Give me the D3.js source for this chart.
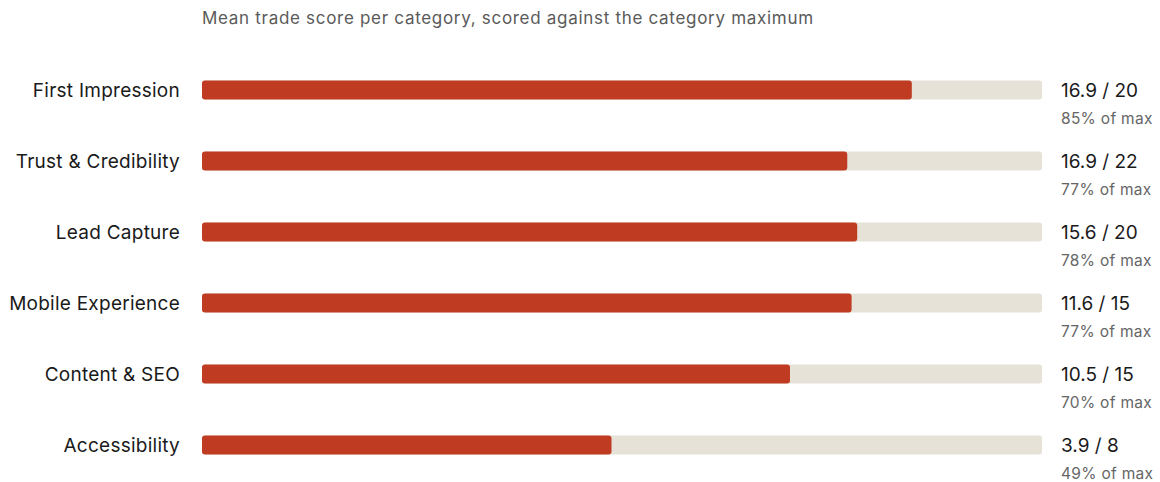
<!DOCTYPE html>
<html>
<head>
<meta charset="utf-8">
<script src="https://cdn.jsdelivr.net/npm/d3@7"></script>
<style>
  html, body { margin: 0; padding: 0; background: #ffffff; }
  svg { display: block; font-family: Inter, "Noto Sans", sans-serif; }
</style>
</head>
<body>
<svg id="chart" width="1160" height="482"></svg>
<script>
// Mean category scores and their maximum possible values
const categories = ["First Impression", "Trust & Credibility", "Lead Capture", "Mobile Experience", "Content & SEO", "Accessibility"];
const scores = [16.9, 16.9, 15.6, 11.6, 10.5, 3.9];
const maxima = [20, 22, 20, 15, 15, 8];
const percentLabels = ["85%", "77%", "78%", "77%", "70%", "49%"];
const subtitle = "Mean trade score per category, scored against the category maximum";

const svg = d3.select("#chart");
const trackLeft = 202, trackRight = 1042;
const barH = 19;

// Share of the maximum maps onto the track width
const x = d3.scaleLinear().domain([0, 1]).range([trackLeft, trackRight]);
const y = d3.scaleBand().domain(categories).range([55, 481]).paddingInner(0).paddingOuter(0);

svg.append("text")
  .attr("x", trackLeft).attr("y", 24)
  .attr("font-size", 17).attr("letter-spacing", 0.7).attr("fill", "#5a5a5a")
  .text(subtitle);

const rows = svg.selectAll("g.row")
  .data(categories.map((c, i) => ({ c, s: scores[i], m: maxima[i], p: percentLabels[i] })))
  .join("g").attr("class", "row")
  .attr("transform", d => `translate(0,${y(d.c) + y.bandwidth() / 2 - 0.5})`);

rows.append("rect")
  .attr("x", x(0)).attr("y", -barH / 2)
  .attr("width", x(1) - x(0)).attr("height", barH)
  .attr("rx", 3).attr("fill", "#e6e2d8");

rows.append("rect")
  .attr("x", x(0)).attr("y", -barH / 2)
  .attr("width", d => x(d.s / d.m) - x(0)).attr("height", barH)
  .attr("rx", 3).attr("fill", "#bf3b22");

rows.append("text")
  .attr("x", 180).attr("y", 0).attr("dy", "0.35em")
  .attr("text-anchor", "end")
  .attr("font-size", 19).attr("letter-spacing", 0.25).attr("fill", "#1a1a1a")
  .text(d => d.c);

rows.append("text")
  .attr("x", 1061).attr("y", 0).attr("dy", "0.35em")
  .attr("font-size", 19).attr("fill", "#1a1a1a")
  .text(d => `${d.s} / ${d.m}`);

rows.append("text")
  .attr("x", 1061).attr("y", 28.5).attr("dy", "0.35em")
  .attr("font-size", 15.5).attr("letter-spacing", 0.3).attr("fill", "#666666")
  .text(d => `${d.p} of max`);
</script>
</body>
</html>
